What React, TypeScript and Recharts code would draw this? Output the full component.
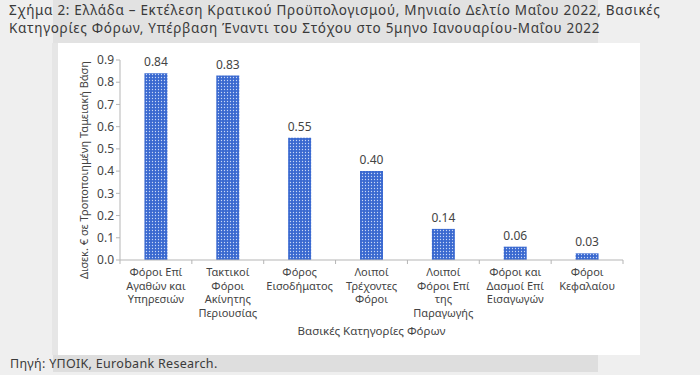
import React from 'react';
import { BarChart, Bar, XAxis, YAxis, LabelList, Label } from 'recharts';

const categories: string[][] = [
  ['Φόροι Επί', 'Αγαθών και', 'Υπηρεσιών'],
  ['Τακτικοί', 'Φόροι', 'Ακίνητης', 'Περιουσίας'],
  ['Φόρος', 'Εισοδήματος'],
  ['Λοιποί', 'Τρέχοντες', 'Φόροι'],
  ['Λοιποί', 'Φόροι Επί', 'της', 'Παραγωγής'],
  ['Φόροι και', 'Δασμοί Επί', 'Εισαγωγών'],
  ['Φόροι', 'Κεφαλαίου'],
];
const values: number[] = [0.84, 0.83, 0.55, 0.40, 0.14, 0.06, 0.03];
const yTicks: number[] = [0, 0.1, 0.2, 0.3, 0.4, 0.5, 0.6, 0.7, 0.8, 0.9];

const titleLines = [
  'Σχήμα 2: Ελλάδα – Εκτέλεση Κρατικού Προϋπολογισμού, Μηνιαίο Δελτίο Μαΐου 2022, Βασικές',
  'Κατηγορίες Φόρων, Υπέρβαση Έναντι του Στόχου στο 5μηνο Ιανουαρίου-Μαΐου 2022',
];
const yLabel = 'Δισεκ. € σε Τροποποιημένη Ταμειακή Βάση';
const xLabel = 'Βασικές Κατηγορίες Φόρων';
const source = 'Πηγή: ΥΠΟΙΚ, Eurobank Research.';

const data = categories.map((c, i) => ({ key: String(i), value: values[i] }));

const FONT = '"Noto Sans", "DejaVu Sans", sans-serif';
const CHART_W = 582;
const CHART_H = 312;
const MARGIN = { top: 17, right: 17, left: 0, bottom: 0 };
const Y_W = 62;
const PLOT_W = CHART_W - MARGIN.left - MARGIN.right - Y_W;
const STEP = PLOT_W / categories.length;

const XTick = (props: any) => {
  const { x, y, payload, index } = props;
  const lines = categories[Number(payload.value)] || [];
  const y0 = y - 8;
  return (
    <g>
      <line x1={x - STEP / 2} y1={y0} x2={x - STEP / 2} y2={y0 + 4} stroke="#b5b5b5" />
      {index === categories.length - 1 && (
        <line x1={x + STEP / 2} y1={y0} x2={x + STEP / 2} y2={y0 + 4} stroke="#b5b5b5" />
      )}
      <text x={x} y={y0} textAnchor="middle" fontSize={11} fill="#444" fontFamily={FONT}>
        {lines.map((l, i) => (
          <tspan key={i} x={x} y={y0 + 16 + i * 13.5}>
            {l}
          </tspan>
        ))}
      </text>
    </g>
  );
};

export default function App() {
  return (
    <div
      style={{
        position: 'absolute',
        left: 0,
        top: 0,
        width: 700,
        height: 375,
        background: '#efefef',
        fontFamily: FONT,
        overflow: 'hidden',
      }}
    >
      <div style={{ position: 'absolute', left: 53, top: 0, width: 545, height: 43, background: '#e2e2e2' }} />
      <div style={{ position: 'absolute', left: 53, top: 355, width: 545, height: 17, background: '#dedede' }} />
      <div style={{ position: 'absolute', left: 52, top: 43, width: 6, height: 312, background: '#e6e6e6' }} />
      <div
        style={{
          position: 'absolute',
          left: 9,
          top: 1,
          fontSize: 13.5,
          letterSpacing: 0.7,
          lineHeight: '18px',
          color: '#3a3a3a',
          whiteSpace: 'nowrap',
        }}
      >
        {titleLines.map((t, i) => (
          <div key={i}>{t}</div>
        ))}
      </div>
      <div style={{ position: 'absolute', left: 58, top: 43, width: CHART_W, height: CHART_H, background: '#fff' }}>
        <BarChart width={CHART_W} height={CHART_H} data={data} margin={MARGIN} barCategoryGap="34%">
          <defs>
            <pattern id="dots" width="3" height="3" patternUnits="userSpaceOnUse">
              <rect width="3" height="3" fill="#3a69d0" />
              <circle cx="1.5" cy="1.5" r="0.65" fill="#c9d7f6" />
            </pattern>
          </defs>
          <XAxis
            dataKey="key"
            interval={0}
            height={95}
            tick={<XTick />}
            tickLine={false}
            axisLine={{ stroke: '#b5b5b5' }}
          >
            <Label
              value={xLabel}
              position="insideBottom"
              offset={20}
              style={{ fontSize: 11.5, fill: '#444', fontFamily: FONT }}
            />
          </XAxis>
          <YAxis
            width={Y_W}
            domain={[0, 0.9]}
            ticks={yTicks}
            interval={0}
            tickFormatter={(v: number) => v.toFixed(1)}
            tick={{ fontSize: 12, fill: '#444', fontFamily: FONT }}
            tickLine={{ stroke: '#b5b5b5' }}
            tickSize={4}
            axisLine={{ stroke: '#b5b5b5' }}
          >
            <Label
              value={yLabel}
              angle={-90}
              position="center"
              dx={-5}
              dy={10}
              style={{ fontSize: 11, fill: '#444', fontFamily: FONT, textAnchor: 'middle' }}
            />
          </YAxis>
          <Bar dataKey="value" fill="url(#dots)" isAnimationActive={false}>
            <LabelList
              dataKey="value"
              position="top"
              offset={7}
              formatter={(v: any) => Number(v).toFixed(2)}
              style={{ fontSize: 12, fill: '#444', fontFamily: FONT }}
            />
          </Bar>
        </BarChart>
      </div>
      <div
        style={{
          position: 'absolute',
          left: 10,
          top: 355,
          fontSize: 12.5,
          letterSpacing: 0.3,
          lineHeight: '17px',
          color: '#3a3a3a',
          whiteSpace: 'nowrap',
        }}
      >
        {source}
      </div>
    </div>
  );
}
